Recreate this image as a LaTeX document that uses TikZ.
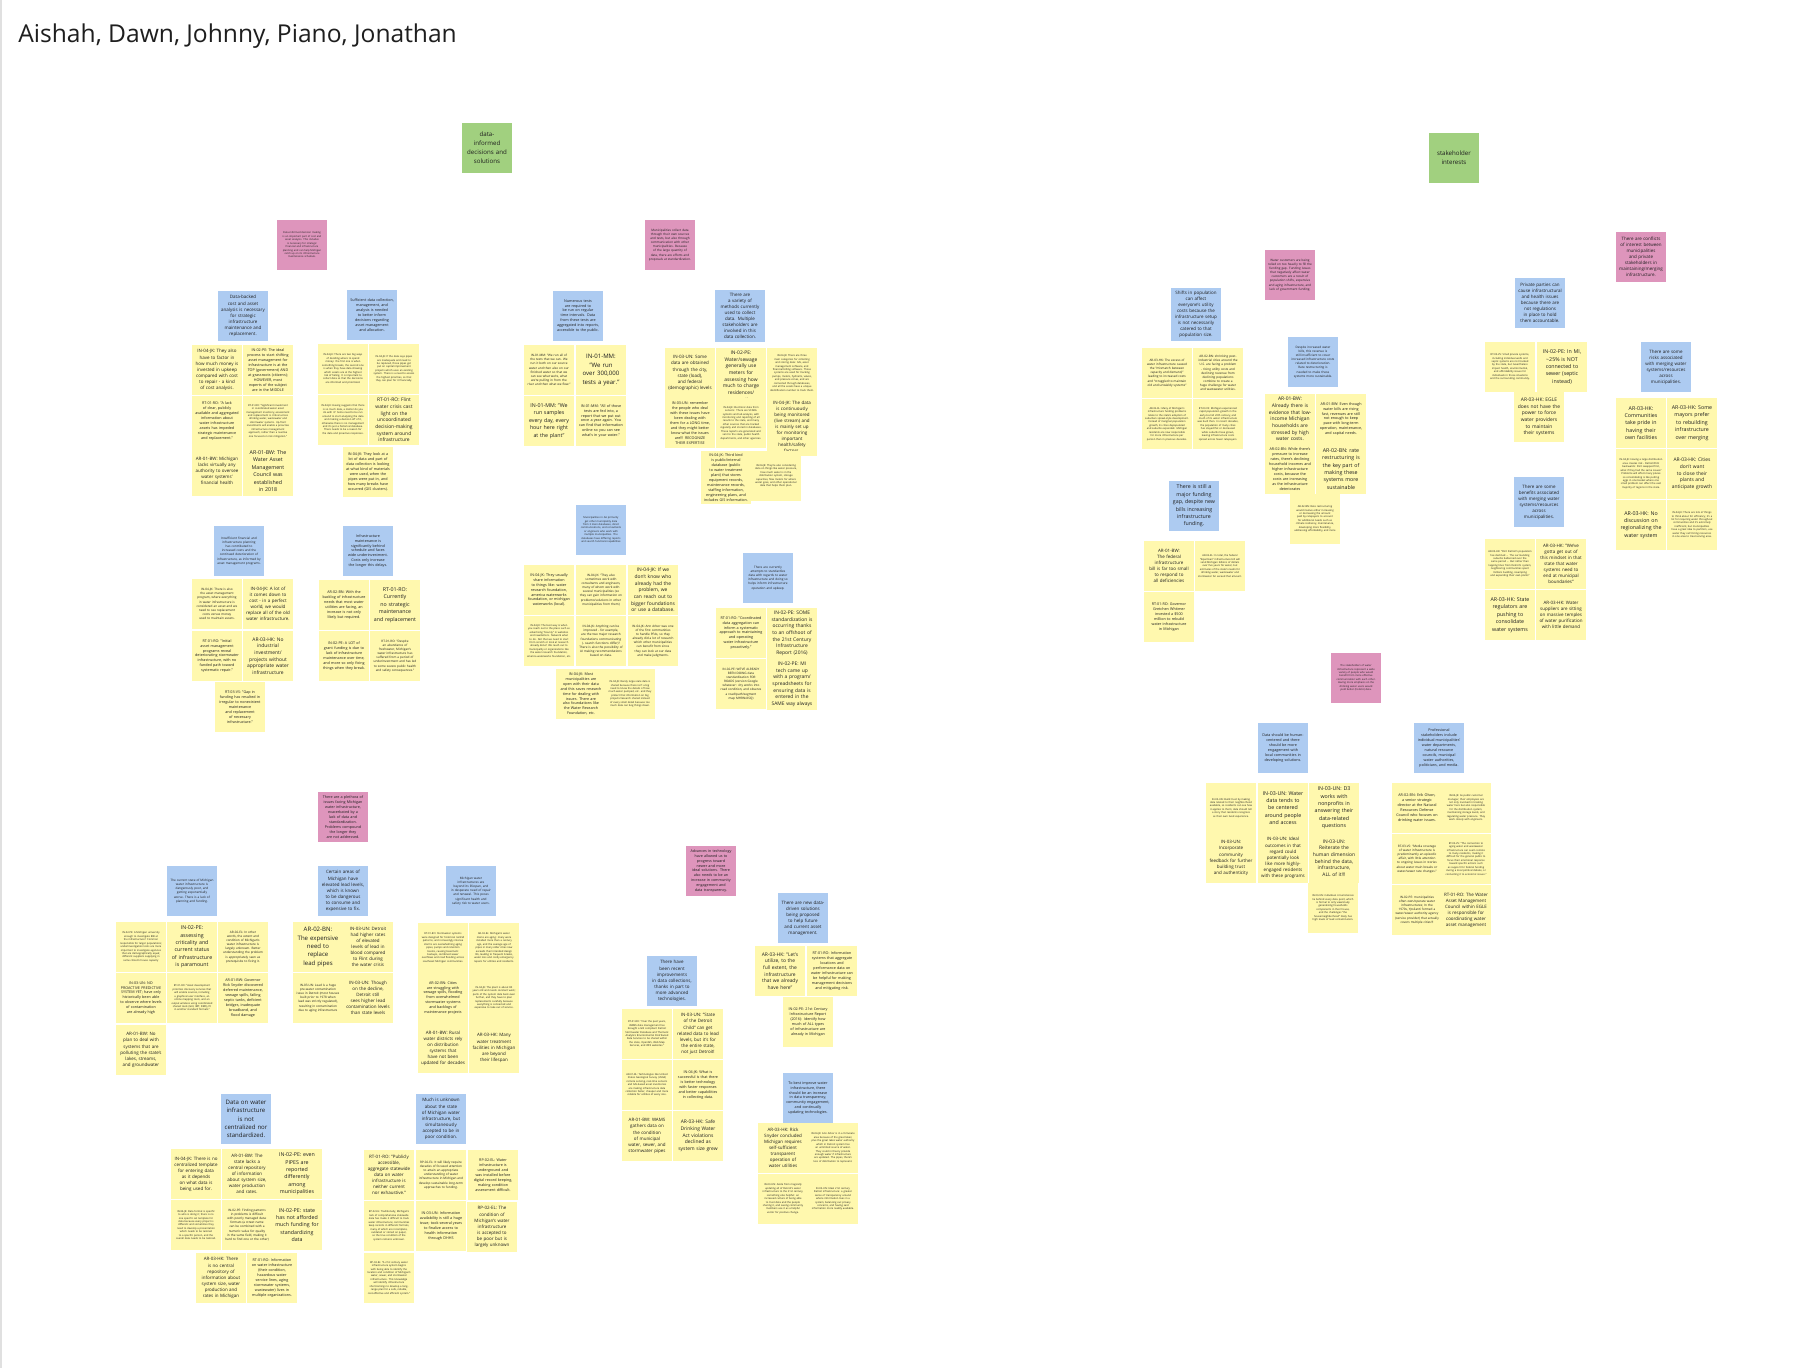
\documentclass[tikz,border=0pt]{standalone}
\usepackage{fontspec}
\setmainfont{Open Sans}
\definecolor{yel}{HTML}{FFF8AE}
\definecolor{blu}{HTML}{ADCBF1}
\definecolor{pnk}{HTML}{DE95BC}
\definecolor{grn}{HTML}{A1D07F}
\definecolor{ink}{HTML}{1E1E1E}
\newcommand\szXL{\fontsize{3.45}{4.8}\selectfont}
\newcommand\szL{\fontsize{3.0}{4.2}\selectfont}
\newcommand\szML{\fontsize{2.8}{3.8}\selectfont}
\newcommand\szM{\fontsize{2.55}{3.45}\selectfont}
\newcommand\szS{\fontsize{2.1}{2.8}\selectfont}
\newcommand\szSs{\fontsize{1.75}{2.35}\selectfont}
\newcommand\szXS{\fontsize{1.45}{1.95}\selectfont}
\newcommand\szG{\fontsize{3.5}{5.1}\selectfont}
\hyphenpenalty=10000
\tikzset{
  stkbox/.style={anchor=north west, minimum width=1cm, minimum height=1cm,
    text width=0.88cm, inner sep=0.06cm, outer sep=0pt, align=center, text=ink},
}
\newcommand\stk[6]{\node[stkbox,fill=#2,font=#3] (#1) at (#4,#5) {#6};}
\begin{document}
\begin{tikzpicture}[x=0.02cm,y=-0.02cm]
\useasboundingbox (0,0) rectangle (1812,1368);
\fill[white] (0,0) rectangle (1812,1368);
\draw[black!12, line width=0.6pt] (1,0) -- (1,1368);
\node[anchor=base west, inner sep=0pt, font=\fontsize{14}{17}\selectfont, text=ink] (title) at (18,43) {Aishah, Dawn, Johnny, Piano, Jonathan};

% green headers
\stk{greenA}{grn}{\szG}{462}{123}{data-\\informed\\decisions and\\solutions}
\stk{greenB}{grn}{\szG}{1429}{133}{stakeholder\\interests}

% ---------- cluster A ----------
\stk{pinkA}{pnk}{\szXS}{277}{220}{Data-informed decision making is an important part of cost and asset analysis. This includes is necessary for strategic financial and infrastructure planning and can help Michigan catch up on its infrastructure maintenance schedule.}
\stk{blueA1}{blu}{\szM}{218}{291}{Data-backed cost and asset analysis is necessary for strategic infrastructure maintenance and replacement.}
\stk{yA1}{yel}{\szM}{192}{345}{IN-04-JK: They also have to factor in how much money is invested in upkeep compared with cost to repair - a kind of cost analysis.}
\stk{yA2}{yel}{\szS}{243}{345}{IN-02-PE: The ideal process to start shifting asset management for infrastructure is at the TOP (government) AND at grassroots (citizens); HOWEVER, most experts of the subject are in the MIDDLE}
\stk{yA3}{yel}{\szS}{192}{396}{RT-01-RO: "A lack of clear, publicly available and aggregated information about water infrastructure assets has impeded strategic maintenance and replacement."}
\stk{yA4}{yel}{\szXS}{243}{396}{RT-01-RO: "Significant investment in coordinated water asset management inventory, assessment and replacement is critical across drinking water, wastewater and stormwater systems. Up-front investments will enable a proactive infrastructure management approach, rather than a reactive one focused on risk mitigation."}
\stk{yA5}{yel}{\szM}{192}{446}{AR-01-BW: Michigan lacks virtually any authority to oversee water systems' financial health}
\stk{yA6}{yel}{\szL}{243}{446}{AR-01-BW: The Water Asset Management Council was established in 2018}

\stk{blueA2}{blu}{\szS}{347}{290}{Sufficient data collection, management, and analysis is needed to better inform decisions regarding asset management and allocation.}
\stk{yA7}{yel}{\szXS}{318}{344}{IN-04-JK: There are two big ways of deciding where to spend money: the first one is when something breaks, the second one is when they have data showing which assets are at the highest risk of failing. It is important to collect data so that the decisions are informed and prioritized.}
\stk{yA8}{yel}{\szXS}{369}{344}{IN-04-JK: If the data says pipes are inadequate and need to be replaced, those pipes get put on capital improvement projects which uses an existing system. There is a need to assess the highest priorities, so that they can plan for it financially.}
\stk{yA9}{yel}{\szXS}{318}{395}{IN-04-JK: Having suggests that there is so much data, a matter do you do with it? Some need to be run around to start analyzing the data and making a decision off of it, otherwise there is no management and it's just a historical database. There needs to be a reason for the data and proactive responses.}
\stk{yA10}{yel}{\szML}{369}{395}{RT-01-RO: Flint water crisis cast light on the uncoordinated decision-making system around infrastructure}
\stk{yA11}{yel}{\szS}{343}{447}{IN-04-JK: They look at a lot of data and part of data collection is looking at what kind of materials were used, when the pipes were put in, and how many breaks have occurred (GIS clusters).}

% ---------- cluster B ----------
\stk{pinkB}{pnk}{\szSs}{645}{220}{Municipalities collect data through their own sources and tests, but also through communication with other municipalities. Because of the large quantity of data, there are efforts and proposals at standardization.}
\stk{blueB1}{blu}{\szS}{553}{291}{Numerous tests are required to be run on regular time intervals. Data from these tests are aggregated into reports, accessible to the public.}
\stk{blueB2}{blu}{\szM}{715}{290}{There are a variety of methods currently used to collect data. Multiple stakeholders are involved in this data collection.}
\stk{yB1}{yel}{\szSs}{524}{345}{IN-01-MM: "We run all of the tests that we can. We run it both on our source water and then also on our finished water so that we can see what we're, what we're pulling in from the river and then what we flow."}
\stk{yB2}{yel}{\szXL}{576}{345}{IN-01-MM: "We run over 300,000 tests a year."}
\stk{yB3}{yel}{\szL}{524}{396}{IN-01-MM: "We run samples every day, every hour here right at the plant"}
\stk{yB4}{yel}{\szS}{576}{396}{IN-01-MM: "All of those tests are fed into, a report that we put out once a year again. You can find that information online so you can see what's in your water."}
\stk{yB5}{yel}{\szM}{665}{348}{IN-03-UN: Some data are obtained through the city, state (load), and federal (demographic) levels}
\stk{yB6}{yel}{\szML}{716}{348}{IN-02-PE: Water/sewage generally use meters for assessing how much to charge residences/ properties}
\stk{yB7}{yel}{\szXS}{767}{348}{IN-04-JK: There are three main categories for collecting and storing data: GIS, asset management software, and financial billing software. Those systems are used for tracking pumps, meters, hydrants, valves, and pressure zones, and are connected through databases, and all the assets have a unique identification number to track them.}
\stk{yB8}{yel}{\szS}{665}{398}{IN-03-UN: remember the people who deal with these issues have been dealing with them for a LONG time, and they might better know what the issues are!!! RECOGNIZE THEIR EXPERTISE}
\stk{yB9}{yel}{\szXS}{716}{398}{IN-04-JK: Electronic data from sensors: There are SCADA systems and lab analysis, with monitoring and reporting of all results to the state, and many other sources that are tracked regularly and stored in databases. These reports are generated and sent to the state, public health departments, and other agencies.}
\stk{yB10}{yel}{\szM}{767}{398}{IN-04-JK: The data is continuously being monitored (live stream) and is mainly set up for monitoring important health/safety factors.}
\stk{yB11}{yel}{\szS}{701}{451}{IN-04-JK: Third kind is public/internal database (public to water treatment plant) that stores equipment records, maintenance records, staffing information, engineering plans, and includes GIS information.}
\stk{yB12}{yel}{\szXS}{751}{451}{IN-04-JK: They're also considering data on things like water pressure, how much water is in the distribution system, storage capacities, flow meters for where water goes, and other operational data that helps them plan.}

% ---------- cluster C ----------
\stk{blueC1}{blu}{\szSs}{214}{526}{Insufficient financial and infrastructure planning has contributed to increased costs and the continued deterioration of infrastructure, as informed by asset management programs.}
\stk{yC1}{yel}{\szSs}{192}{579}{IN-04-JK: There is also the asset management program, where everything in water infrastructure is considered an asset and we need to see replacement costs versus money used to maintain assets.}
\stk{yC2}{yel}{\szM}{243}{579}{IN-04-JK: A lot of it comes down to cost - in a perfect world, we would replace all of the old water infrastructure.}
\stk{yC3}{yel}{\szS}{192}{631}{RT-01-RO: "Initial asset management programs reveal deteriorating stormwater infrastructure, with no funded path toward systematic repair."}
\stk{yC4}{yel}{\szML}{243}{631}{AR-03-HK: No industrial investment/\allowbreak projects without appropriate water infrastructure}
\stk{yC5}{yel}{\szS}{215}{682}{RT-03-VS: "Gap in funding has resulted in irregular to nonexistent maintenance and replacement of necessary infrastructure."}
\stk{blueC2}{blu}{\szS}{343}{526}{Infrastructure maintenance is significantly behind schedule and faces wide underinvestment. Costs only increase the longer this delays.}
\stk{yC6}{yel}{\szS}{319}{580}{AR-02-BN: With the backlog of infrastructure needs that most water utilities are facing, an increase is not only likely but required.}
\stk{yC7}{yel}{\szL}{370}{580}{RT-01-RO: Currently no strategic maintenance and replacement}
\stk{yC8}{yel}{\szS}{319}{631}{IN-02-PE: A LOT of grant funding is due to lack of infrastructure maintenance over time, and more so only fixing things when they break.}
\stk{yC9}{yel}{\szSs}{370}{631}{RT-01-RO: "Despite an abundance of freshwater, Michigan's water infrastructure has suffered from a period of underinvestment and has led to some severe public health and safety consequences."}

% ---------- cluster D ----------
\stk{blueD1}{blu}{\szXS}{576}{505}{Municipalities in AA primarily get other municipality data from 3 main databases, direct communications, and consultants or engineers who work with multiple municipalities. The databases have differing reports and search functions/capabilities}
\stk{yD1}{yel}{\szS}{524}{565}{IN-04-JK: They usually share information to things like: water research foundation, america waterworks foundation, or michigan waterworks (local).}
\stk{yD2}{yel}{\szSs}{576}{565}{IN-04-JK: "They also sometimes work with consultants and engineers, many of whom work with several municipalities (so they can gain information on problems/solutions in other municipalities from them)}
\stk{yD3}{yel}{\szML}{628}{565}{IN-04-JK: If we don't know who already had the problem, we can reach out to bigger foundations or use a database.}
\stk{yD4}{yel}{\szXS}{524}{616}{IN-04-JK: The best way is when you reach out to the place such as advertising "bounty" in websites and newsletters. Network what to do. Not that we need to start from scratch or look at research already done? We reach out to municipality or organizations like the water research foundation, america waterworks foundation, etc.}
\stk{yD5}{yel}{\szSs}{576}{616}{IN-04-JK: Anything can be improved - for example, are the two major research foundations communicating (- search functions differ)? There is also the possibility of AI making recommendations based on data.}
\stk{yD6}{yel}{\szSs}{628}{616}{IN-04-JK: Ann Arbor was one of the first communities to handle PFAs, so they already did a lot of research which other municipalities can benefit from since they can look at our data and make judgments.}
\stk{yD7}{yel}{\szS}{556}{669}{IN-04-JK: Most municipalities are open with their data and this saves research time for dealing with issues. There are also foundations like the Water Research Foundation, etc.}
\stk{yD8}{yel}{\szXS}{605}{669}{IN-04-JK: Rarely large-scale data is shared because there isn't a big need to know the details of how much water pumped, etc. and they protect that information on big projects/research shared instead of every small detail because too much data can bog things down.}
\stk{blueD2}{blu}{\szSs}{743}{553}{There are currently attempts to standardize data with regards to water infrastructure and doing so helps inform infrastructure operation and upkeep.}
\stk{yD9}{yel}{\szS}{716}{608}{RT-01-RO: "Coordinated data aggregation can inform a systematic approach to maintaining and operating water infrastructure proactively."}
\stk{yD10}{yel}{\szML}{767}{608}{IN-02-PE: SOME standardization is occurring thanks to an offshoot of the 21st Century Infrastructure Report (2016)}
\stk{yD11}{yel}{\szSs}{716}{659}{IN-02-PE: WE'VE ALREADY BEEN DOING data standardization FOR ROADS (version Google whatever: city works into road condition, and observe a road/path/segment map MHRN/ASQ)}
\stk{yD12}{yel}{\szML}{767}{659}{IN-02-PE: MI tech came up with a program/\allowbreak spreadsheets for ensuring data is entered in the SAME way always}

% ---------- cluster E ----------
\stk{pinkE}{pnk}{\szSs}{1265}{250}{Water customers are being relied on too heavily to fill the funding gap. Funding issues that negatively affect water customers are a result of population shifts, expensive and aging infrastructure, and lack of government funding.}
\stk{blueE1}{blu}{\szM}{1171}{288}{Shifts in population can affect everyone's utility costs because the infrastructure setup is not necessarily catered to that population size.}
\stk{yE1}{yel}{\szSs}{1142}{348}{AR-03-HK: The excess of water infrastructure caused the "mismatch between capacity and demand," leading to increased costs and "struggled to maintain old and unwieldy systems"}
\stk{yE2}{yel}{\szSs}{1193}{348}{AR-02-BN: shrinking post-industrial cities around the U.S. are facing a problem - rising utility costs and declining revenue from declining populations combine to create a huge challenge for water and wastewater utilities.}
\stk{yE3}{yel}{\szXS}{1142}{399}{AR-02-EL: Many of Michigan's infrastructure funding problems relate to the state's adoption of suburban sprawl-style development. Instead of marginal population growth, its cities depopulated and suburbs expanded. Michigan residents are now responsible for more infrastructure per person than in previous decades.}
\stk{yE4}{yel}{\szXS}{1193}{399}{RT-03-VS: Michigan experienced rapid population growth in the early-to-mid 20th century, and much of its water infrastructure was built then. In recent decades, the population of many cities has stayed flat or decreased while suburbs have grown, leaving infrastructure costs spread across fewer ratepayers.}
\stk{blueE2}{blu}{\szSs}{1288}{337}{Despite increased water bills, this revenue is still insufficient to cover increased infrastructure costs related to deterioration. Rate restructuring is needed to make these systems more sustainable.}
\stk{yE5}{yel}{\szML}{1265}{394}{AR-01-BW: Already there is evidence that low-income Michigan households are stressed by high water costs.}
\stk{yE6}{yel}{\szS}{1316}{394}{AR-01-BW: Even though water bills are rising fast, revenues are still not enough to keep pace with long-term operation, maintenance, and capital needs.}
\stk{yE7}{yel}{\szS}{1265}{444}{AR-02-BN: While there's pressure to increase rates, there's declining household incomes and higher infrastructure costs, because the costs are increasing as the infrastructure deteriorates}
\stk{yE8}{yel}{\szL}{1316}{444}{AR-02-BN: rate restructuring is the key part of making these systems more sustainable}
\stk{yE9}{yel}{\szXS}{1290}{494}{AR-02-BN: Rate restructuring would involve either increasing or decreasing the amount paid by ratepayers to account for additional needs such as climate resiliency, maintenance, developing more flexibility, addressing affordability, and more}
\stk{blueE3}{blu}{\szL}{1169}{481}{There is still a major funding gap, despite new bills increasing infrastructure funding.}
\stk{yE10}{yel}{\szM}{1144}{541}{AR-01-BW: The federal infrastructure bill is far too small to respond to all deficiencies}
\stk{yE11}{yel}{\szXS}{1195}{541}{AR-02-EL: In total, the federal "bipartisan" infrastructure bill will send Michigan billions of dollars over five years for water, but estimates of the state's needs for drinking water, wastewater and stormwater far exceed that amount.}
\stk{yE12}{yel}{\szS}{1144}{592}{RT-01-RO: Governor Gretchen Whitmer invested a \$500 million to rebuild water infrastructure in Michigan}

% ---------- cluster F ----------
\stk{pinkF}{pnk}{\szM}{1616}{232}{There are conflicts of interest between municipalities and private stakeholders in maintaining/\allowbreak merging infrastructure.}
\stk{blueF1}{blu}{\szM}{1515}{278}{Private parties can cause infrastructural and health issues because there are not regulations in place to hold them accountable.}
\stk{yF1}{yel}{\szXS}{1485}{342}{RT-03-VS: Small private systems, including individual wells and septic systems are not tracked by the state, but nevertheless impact health, environmental, and affordability issues for individuals in those situations and the surrounding community.}
\stk{yF2}{yel}{\szL}{1537}{342}{IN-02-PE: In MI, \textasciitilde25\% is NOT connected to sewer (septic instead)}
\stk{yF3}{yel}{\szML}{1514}{392}{AR-03-HK: EGLE does not have the power to force water providers to maintain their systems}
\stk{blueF2}{blu}{\szM}{1641}{342}{There are some risks associated with merging water systems/resources across municipalities.}
\stk{yF4}{yel}{\szL}{1616}{398}{AR-03-HK: Communities take pride in having their own facilities}
\stk{yF5}{yel}{\szL}{1667}{398}{AR-03-HK: Some mayors prefer to rebuilding infrastructure over merging}
\stk{yF6}{yel}{\szXS}{1616}{449}{IN-04-JK: Having a large distribution area creates risk - Detroit/Flint backwards: Flint swapped first, what if they had the same issues? Problems will affect many places so consolidating is like putting eggs in one basket where one small problem can affect the vast majority of regions in the state.}
\stk{yF7}{yel}{\szML}{1667}{449}{AR-03-HK: Cities don't want to close their plants and anticipate growth}
\stk{yF8}{yel}{\szL}{1616}{500}{AR-03-HK: No discussion on regionalizing the water system}
\stk{yF9}{yel}{\szXS}{1667}{500}{IN-04-JK: There are lots of things to think about for efficiency; it's a lot for requiring water throughout communities and it's extremely inefficient, but municipalities have a great idea to partition, use water they can't bring resources in one area to treat serving area.}
\stk{blueF3}{blu}{\szM}{1514}{477}{There are some benefits associated with merging water systems/resources across municipalities.}
\stk{yF10}{yel}{\szXS}{1485}{539}{AR-03-HK: "Flint Detroit's population has declined ... The surrounding suburbs ballooned over the same period ... But rather than tapping lines from Detroit's system, neighboring communities spent millions building, revamping and expanding their own plants"}
\stk{yF11}{yel}{\szM}{1536}{539}{AR-03-HK: "We've gotta get out of this mindset in that state that water systems need to end at municipal boundaries"}
\stk{yF12}{yel}{\szL}{1485}{590}{AR-03-HK: State regulators are pushing to consolidate water systems}
\stk{yF13}{yel}{\szM}{1536}{590}{AR-03-HK: Water suppliers are sitting on massive temples of water purification with little demand}

% ---------- cluster G ----------
\stk{pinkG}{pnk}{\szXS}{1331}{653}{The stakeholders of water infrastructure represent a wide variety of people who would benefit from more effective communication with each other. Having more emphasis on the drinking water users would yield better (holistic) data.}
\stk{blueG1}{blu}{\szS}{1258}{723}{Data should be human-centered and there should be more engagement with local communities in developing solutions.}
\stk{yGl1}{yel}{\szXS}{1206}{783}{IN-03-UN: Build trust by making data related to their neighborhood available, so residents can see how it applies to them; data should tell a story that residents recognize as their own lived experience.}
\stk{yGl2}{yel}{\szM}{1206}{833}{IN-03-UN: Incorporate community feedback for further building trust and authenticity}
\stk{yGa}{yel}{\szL}{1258}{783}{IN-03-UN: Water data tends to be centered around people and access}
\stk{yGb}{yel}{\szL}{1309}{783}{IN-03-UN: D3 works with nonprofits in answering their data-related questions}
\stk{yGc}{yel}{\szM}{1258}{833}{IN-03-UN: Ideal outcomes in that regard could potentially look like more highly-engaged residents with these programs}
\stk{yGd}{yel}{\szML}{1309}{833}{IN-03-UN: Reiterate the human dimension behind the data, infrastructure, ALL of it!!!}
\stk{yGe}{yel}{\szXS}{1308}{883}{IN-03-UN: individual circumstances lie behind every data point, which is formal to only view/study generalizing households components in their house, and the challenges "the house/neighborhood" likely has high levels of lead contamination.}
\stk{blueG2}{blu}{\szS}{1414}{723}{Professional stakeholders include individual municipalities' water departments, natural resource councils, municipal water authorities, politicians, and media.}
\stk{yG1}{yel}{\szS}{1392}{783}{AR-02-BN: Erik Olson, a senior strategic director at the Natural Resources Defense Council who focuses on drinking water issues.}
\stk{yG2}{yel}{\szXS}{1441}{783}{IN-04-JK: As public customer manager, their employees are not only involved in treating water here but also responsible for the distribution system, maintaining storage levels, and regulating water pressure. They work closely with engineers.}
\stk{yG3}{yel}{\szSs}{1392}{834}{RT-03-VS: "Media coverage of water infrastructure is predominantly an episodic affair, with little attention to ongoing issues in stories about water main breaks or water/sewer rate changes."}
\stk{yG4}{yel}{\szXS}{1441}{834}{RT-03-VS: "The connection to aging water and wastewater infrastructure can seem remote to many residents, making it difficult for the general public to focus their emotional response toward specific actions such as support for federal funding during a local political debate, or connecting it to economic issues."}
\stk{yG5}{yel}{\szSs}{1392}{885}{IN-02-PE: municipalities often own/operate water infrastructures; In the 1970s, Ypsilanti formed a water/sewer authority agency (service provider) that actually covers multiple cities!!!}
\stk{yG6}{yel}{\szM}{1441}{885}{RT-01-RO: The Water Asset Management Council within EGLE is responsible for coordinating water asset management}

% ---------- cluster H ----------
\stk{pinkH}{pnk}{\szS}{318}{792}{There are a plethora of issues facing Michigan water infrastructure, exacerbated by a lack of data and standardization. Problems compound the longer they are not addressed.}
\stk{blueH1}{blu}{\szSs}{167}{866}{The current state of Michigan water infrastructure is dangerously poor, and getting exponentially worse. There is a lack of planning and funding.}
\stk{yH1}{yel}{\szXS}{116}{922}{IN-02-PE: A Michigan university enough to investigate RIB at the infrastructure? Common responsible for larger populations; underinvestigation tools are more important to investigate agencies that are demographically equal; different suppliers supplying in same citizen's house capacity}
\stk{yH2}{yel}{\szL}{167}{922}{IN-02-PE: assessing criticality and current status of infrastructure is paramount}
\stk{yH3}{yel}{\szSs}{218}{922}{AR-02-EL: In other words, the extent and condition of Michigan's water infrastructure is largely unknown. Better understanding the problem is appropriately seen as prerequisite to fixing it.}
\stk{yH4}{yel}{\szS}{116}{973}{IN-03-UN: NO PROACTIVE PREDICTIVE SYSTEM YET; have only historically been able to observe where levels of contamination are already high}
\stk{yH5}{yel}{\szXS}{167}{973}{RT-01-RO: "Asset development priorities discovery services that will enable sources, including a graphical user interface, an online mapping tools, and an output wireless using coordinated shared tools (GUI, IMT, DMS), fit in another standard formats."}
\stk{yH6}{yel}{\szS}{218}{973}{AR-01-BW: Governor Rick Snyder discovered deferred maintenance, sewage spills, failing septic tanks, deficient bridges, inadequate broadband, and flood damage}
\stk{yH7}{yel}{\szM}{116}{1025}{AR-01-BW: No plan to deal with systems that are polluting the state's lakes, streams, and groundwater}
\stk{blueH2}{blu}{\szM}{318}{866}{Certain areas of Michigan have elevated lead levels, which is known to be dangerous to consume and expensive to fix.}
\stk{yH8}{yel}{\szXL}{293}{922}{AR-02-BN: The expensive need to replace lead pipes}
\stk{yH9}{yel}{\szM}{343}{922}{IN-03-UN: Detroit had higher rates of elevated levels of lead in blood compared to Flint during the water crisis}
\stk{yH10}{yel}{\szSs}{293}{973}{IN-03-UN: Lead is a huge pre-water contamination issue in Detroit (most houses built prior to 1978 when lead was strictly regulated), resulting in contamination due to aging infrastructure}
\stk{yH11}{yel}{\szM}{343}{973}{IN-03-UN: Though on the decline, Detroit still sees higher lead contamination levels than state levels}
\stk{blueH3}{blu}{\szSs}{446}{866}{Michigan water infrastructures are beyond its lifespan, and in desperate need of repair and renewal. This poses significant health and safety risk to water users.}
\stk{yH12}{yel}{\szXS}{418}{923}{RT-01-RO: Stormwater systems were designed for historical rainfall patterns, and increasingly intense storms are overwhelming aging pipes, pumps and retention basins, causing basement backups, combined sewer overflows and road flooding across southeast Michigan communities.}
\stk{yH13}{yel}{\szXS}{469}{923}{AR-02-EL: Michigan's water mains are aging: many were installed more than a century ago, and the average age of pipes in many older cities now exceeds their intended design life, leading to frequent breaks, water loss and costly emergency repairs for utilities and residents.}
\stk{yH14}{yel}{\szS}{418}{973}{AR-02-BN: Cities are struggling with sewage spills, flooding from overwhelmed stormwater systems and backlogs of maintenance projects}
\stk{yH15}{yel}{\szXS}{469}{973}{IN-04-JK: The plant is about 80 years old and needs constant work; parts of the system date back even further, and they have to plan replacements carefully because everything is connected and expensive to take out of service.}
\stk{yH16}{yel}{\szM}{418}{1023}{AR-01-BW: Rural water districts rely on distribution systems that have not been updated for decades}
\stk{yH17}{yel}{\szM}{469}{1023}{AR-03-HK: Many water treatment facilities in Michigan are beyond their lifespan}

% ---------- cluster I ----------
\stk{pinkI}{pnk}{\szS}{686}{846}{Advances in technology have allowed us to progress toward newer and more ideal solutions. There also needs to be an increase in community engagement and data transparency.}
\stk{blueI1}{blu}{\szM}{778}{893}{There are new data-driven solutions being proposed to help future and current asset management.}
\stk{yI1}{yel}{\szML}{755}{946}{AR-03-HK: "Let's utilize, to the full extent, the infrastructure that we already have here"}
\stk{yI2}{yel}{\szS}{807}{946}{RT-01-RO: Information systems that aggregate locations and performance data on water infrastructure can be helpful for making management decisions and mitigating risk.}
\stk{yI3}{yel}{\szS}{783}{997}{IN-02-PE: 21st Century Infrastructure Report (2016): Identify how much of ALL types of infrastructure are already in Michigan}
\stk{blueI2}{blu}{\szM}{647}{956}{There have been recent improvements in data collections, thanks in part to more advanced technologies.}
\stk{yI4}{yel}{\szXS}{622}{1009}{RT-01-RO: "Over the past years, WAMS data management has brought a GIS compliant Detroit Stormwater Database and Thematic Analytics Environmental Distributed Data Services to be shared within the state, OpenGIS, Web Map Services, and WFS websites."}
\stk{yI5}{yel}{\szM}{673}{1009}{IN-03-UN: "State of the Detroit Child" can get related data to lead levels, but it's for the entire state, not just Detroit!}
\stk{yI6}{yel}{\szXS}{622}{1060}{AR-01-RL: Technologies like United States Geological Survey (USGS) remote sensing, real-time sensors and GIS-based asset inventories are making infrastructure data collection faster, cheaper and more reliable for utilities of every size.}
\stk{yI7}{yel}{\szS}{673}{1060}{IN-04-JK: What is successful is that there is better technology with faster responses and better capabilities in collecting data.}
\stk{yI8}{yel}{\szM}{622}{1111}{AR-01-BW: WAMS gathers data on the condition of municipal water, sewer, and stormwater pipes}
\stk{yI9}{yel}{\szML}{673}{1111}{AR-03-HK: Safe Drinking Water Act violations declined as system size grew}
\stk{blueI3}{blu}{\szS}{783}{1073}{To best improve water infrastructure, there should be an increase in data transparency, community engagement, and continually updating technologies.}
\stk{yI10}{yel}{\szM}{758}{1123}{AR-03-HK: Rick Snyder concluded Michigan requires self-sufficient transparent operation of water utilities}
\stk{yI11}{yel}{\szXS}{808}{1123}{IN-04-JK: Ann Arbor is in a fortunate area because of the great lakes; plus the great lakes water authority which in Detroit system has an unlimited source of water. They could in theory provide enough water if infrastructure are updated. The pipes, there's less of distribution to represent.}
\stk{yI12}{yel}{\szXS}{758}{1174}{IN-03-UN: Aside from magically updating all of Detroit's water infrastructure to the 21st century, something else helpful: an increased culture of being able to trust data and the people sharing it, and seeing community members use it as a helpful vector for positive change.}
\stk{yI13}{yel}{\szXS}{808}{1174}{IN-03-UN: Ideal 21st century Detroit infrastructure: a greater sense of transparency around where information lives in a system, balancing out privacy concerns, and having said information more readily available.}

% ---------- cluster J ----------
\stk{blueJ1}{blu}{\szXL}{221}{1094}{Data on water infrastructure is not centralized nor standardized.}
\stk{yJ1}{yel}{\szM}{171}{1149}{IN-04-JK: There is no centralized template for entering data as it depends on what data is being used for.}
\stk{yJ2}{yel}{\szM}{222}{1149}{AR-01-BW: The state lacks a central repository of information about system size, water production and rates.}
\stk{yJ3}{yel}{\szL}{272}{1149}{IN-02-PE: even PIPES are reported differently among municipalities}
\stk{yJ4}{yel}{\szXS}{171}{1200}{IN-04-JK: Data format is specific to who is doing it; there is no one specific set template for data because every project is different and sometimes they need to develop a presentation which needs to be tailored to a specific person, and the overall data needs to be tailored.}
\stk{yJ5}{yel}{\szSs}{222}{1200}{IN-02-PE: Finding patterns in problems is difficult with poorly managed data: formats (a street name can be combined with a numeric value for quality in the same field, making it hard to find one or the other)}
\stk{yJ6}{yel}{\szL}{272}{1200}{IN-02-PE: state has not afforded much funding for standardizing data}
\stk{yJ7}{yel}{\szM}{196}{1253}{AR-03-HK: There is no central repository of information about system size, water production and rates in Michigan}
\stk{yJ8}{yel}{\szS}{247}{1253}{RT-01-RO: Information on water infrastructure (their condition, hazardous water service lines, aging stormwater systems, wastewater) lives in multiple organizations.}
\stk{blueJ2}{blu}{\szM}{416}{1094}{Much is unknown about the state of Michigan water infrastructure, but simultaneously accepted to be in poor condition.}
\stk{yJ9}{yel}{\szM}{364}{1150}{RT-01-RO: "Publicly accessible, aggregate statewide data on water infrastructure is neither current nor exhaustive."}
\stk{yJ10}{yel}{\szSs}{416}{1150}{RP-02-EL: It will likely require decades of focused attention to attain an appropriate understanding of water infrastructure in Michigan and develop sustainable long-term approaches to funding.}
\stk{yJ11}{yel}{\szS}{468}{1150}{RP-02-EL: Water infrastructure is underground and was installed before digital record keeping, making condition assessment difficult.}
\stk{yJ12}{yel}{\szXS}{364}{1201}{RP-02-EL: Traditionally, Michigan's lack of comprehensive statewide data has made it difficult to track water infrastructure; communities keep records in different formats, many of which are incomplete, outdated or stored on paper, so the true condition of the system remains unknown.}
\stk{yJ13}{yel}{\szS}{416}{1201}{IN-03-UN: Information availability is still a huge issue; took several years to finalize access to health information through DHHS}
\stk{yJ14}{yel}{\szM}{467}{1202}{RP-02-EL: The condition of Michigan's water infrastructure is accepted to be poor but is largely unknown}
\stk{yJ15}{yel}{\szXS}{364}{1253}{RP-02-EL: "A 21st century water infrastructure system begins with being able to identify the location and condition of Michigan's water, sewer, and stormwater infrastructure. This knowledge will identify infrastructure shortcomings to develop a long-range plan for a safe, reliable, cost-effective and efficient system."}
\end{tikzpicture}
\end{document}
